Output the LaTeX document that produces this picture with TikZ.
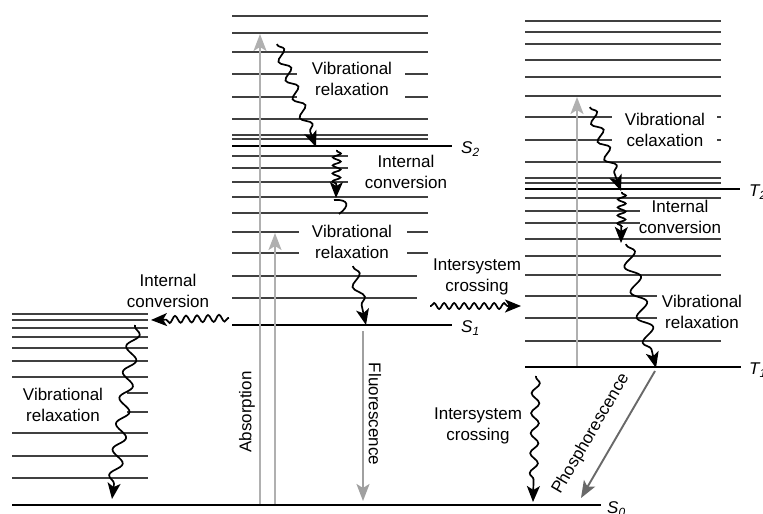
\documentclass[tikz,border=0pt]{standalone}
\usepackage{fontspec}
\setmainfont{Liberation Sans}
\usetikzlibrary{arrows.meta,decorations.pathmorphing}
\definecolor{lgray}{RGB}{176,176,176}
\definecolor{mgray}{RGB}{160,160,160}
\definecolor{dgray}{RGB}{105,105,105}
\begin{document}
\begin{tikzpicture}[x=1pt,y=-1pt,
  lvl/.style={line width=1.2pt, draw=black!75},
  thicklvl/.style={line width=2.8pt, draw=black},
  lbl/.style={font=\fontsize{17}{20.5}\selectfont, align=center, inner sep=0pt},
  stlbl/.style={font=\fontsize{17}{20}\selectfont, inner sep=0pt, anchor=west},
  grayarrow/.style={line width=1.9pt, -{Stealth[length=17pt,width=13pt,inset=4pt]}},
  wavy/.style={line width=1.7pt, -{Stealth[length=16pt,width=13pt,inset=4pt]}, decorate,
    decoration={snake, amplitude=5pt, segment length=18pt, post length=12pt, pre length=1pt}}
]
\useasboundingbox (0,0) rectangle (763,514);
\fill[white] (0,0) rectangle (763,514);

% ---------- middle stack (S2, S1) ----------
\foreach \y in {16,33,52,119,135,139,197,213} \draw[lvl] (232,\y) -- (428,\y);
\foreach \y in {74,97} {\draw[lvl] (232,\y) -- (297,\y); \draw[lvl] (405,\y) -- (428,\y);}
\foreach \y in {232,253} {\draw[lvl] (232,\y) -- (299,\y); \draw[lvl] (407,\y) -- (428,\y);}
\foreach \y in {156,168,182} \draw[lvl] (232,\y) -- (348,\y);
\foreach \y in {276,298} \draw[lvl] (232,\y) -- (417,\y);
\draw[thicklvl] (232,146) -- (452,146);
\draw[thicklvl] (232,325) -- (452,325);

% ---------- right stack (T2, T1) ----------
\foreach \y in {21,32,44,60,77,96,162,178,183,198,239,256,275,341} \draw[lvl] (525,\y) -- (721,\y);
\foreach \y in {117,140} {\draw[lvl] (525,\y) -- (612,\y); \draw[lvl] (717,\y) -- (721,\y);}
\foreach \y in {211,223} \draw[lvl] (525,\y) -- (640,\y);
\foreach \y in {296,318} \draw[lvl] (525,\y) -- (657,\y);
\draw[thicklvl] (525,189) -- (740,189);
\draw[thicklvl] (525,367) -- (741,367);

% ---------- left stack ----------
\foreach \y in {314,320,328,337,348,361,377,433,456,478} \draw[lvl] (12,\y) -- (148,\y);
\foreach \y in {393,412} \draw[lvl] (127,\y) -- (148,\y);

% ---------- ground state ----------
\draw[thicklvl] (12,505) -- (601,505);

% ---------- state labels ----------
\node[stlbl] (s2) at (461,149) {\itshape S\textsubscript{2}};
\node[stlbl] (s1) at (461,328) {\itshape S\textsubscript{1}};
\node[stlbl] (s0) at (607,509) {\itshape S\textsubscript{0}};
\node[stlbl] (t2) at (749,192) {\itshape T\textsubscript{2}};
\node[stlbl] (t1) at (749,370) {\itshape T\textsubscript{1}};

% ---------- coordinates ----------
\coordinate (ab1s) at (260,504); \coordinate (ab1e) at (260,34);
\coordinate (ab2s) at (275,504); \coordinate (ab2e) at (275,233);
\coordinate (fls) at (363,331);  \coordinate (fle) at (363,501);
\coordinate (abrs) at (577,366); \coordinate (abre) at (577,97);
\coordinate (phs) at (655,371);  \coordinate (phe) at (581,498);

\coordinate (va1) at (277,44);  \coordinate (va2) at (316,147);
\coordinate (ic1) at (337,150); \coordinate (ic2) at (336,198);
\coordinate (cu1) at (334,200); \coordinate (cu2) at (339,214);
\coordinate (vb1) at (353,266); \coordinate (vb2) at (366,325);
\coordinate (is1) at (430,306); \coordinate (is2) at (521,306);
\coordinate (il1) at (229,318); \coordinate (il2) at (151,320);
\coordinate (vl1) at (135,325); \coordinate (vl2) at (112,499);
\coordinate (vr1) at (590,107); \coordinate (vr2) at (621,191);
\coordinate (ir1) at (622,192); \coordinate (ir2) at (621,243);
\coordinate (vs1) at (626,244); \coordinate (vs2) at (656,368);
\coordinate (ib1) at (536,376); \coordinate (ib2) at (533,502);

% ---------- radiative (gray) arrows ----------
\draw[grayarrow, draw=lgray, fill=lgray] (ab1s) -- (ab1e);
\draw[grayarrow, draw=lgray, fill=lgray] (ab2s) -- (ab2e);
\draw[grayarrow, draw=mgray, fill=mgray] (fls) -- (fle);
\draw[grayarrow, draw=lgray, fill=lgray] (abrs) -- (abre);
\draw[grayarrow, draw=dgray, fill=dgray] (phs) -- (phe);

% ---------- wavy (non-radiative) arrows ----------
\draw[wavy, decoration={amplitude=5pt, segment length=20pt}] (va1) -- (va2);
\draw[wavy, decoration={amplitude=4pt, segment length=8pt, post length=14pt}] (ic1) -- (ic2);
\draw[line width=1.7pt] (cu1) .. controls (349,199) and (350,206) .. (cu2);
\draw[wavy, decoration={amplitude=5pt, segment length=24pt, post length=14pt}] (vb1) -- (vb2);
\draw[wavy, decoration={amplitude=3pt, segment length=10pt, post length=13pt}] (is1) -- (is2);
\draw[wavy, decoration={amplitude=3.5pt, segment length=11pt, post length=13pt}] (il1) -- (il2);
\draw[wavy, decoration={amplitude=6pt, segment length=26pt, post length=15pt}] (vl1) -- (vl2);
\draw[wavy, decoration={amplitude=5pt, segment length=19pt, post length=13pt}] (vr1) -- (vr2);
\draw[wavy, decoration={amplitude=4pt, segment length=8pt, post length=14pt}] (ir1) -- (ir2);
\draw[wavy, decoration={amplitude=7pt, segment length=26pt, post length=15pt}] (vs1) -- (vs2);
\draw[wavy, decoration={amplitude=4pt, segment length=20pt, post length=14pt}] (ib1) -- (ib2);

% ---------- process labels ----------
\node[lbl] (lvr1) at (352,79) {Vibrational\\relaxation};
\node[lbl] (lic1) at (406,172) {Internal\\conversion};
\node[lbl] (lvr2) at (352,242) {Vibrational\\relaxation};
\node[lbl] (lic2) at (168,291) {Internal\\conversion};
\node[lbl] (lisc1) at (477,277) {Intersystem\\crossing};
\node[lbl] (lvr3) at (63,405) {Vibrational\\relaxation};
\node[lbl] (lvr4) at (665,130) {Vibrational\\celaxation};
\node[lbl] (lic3) at (680,217) {Internal\\conversion};
\node[lbl] (lvr5) at (702,312) {Vibrational\\relaxation};
\node[lbl] (lisc2) at (478,426) {Intersystem\\crossing};
\node[lbl, rotate=90] (labs) at (247,412) {Absorption};
\node[lbl, rotate=-90] (lfl) at (375,414) {Fluorescence};
\node[lbl, rotate=59.7] (lph) at (591,434) {Phosphorescence};
\end{tikzpicture}
\end{document}
